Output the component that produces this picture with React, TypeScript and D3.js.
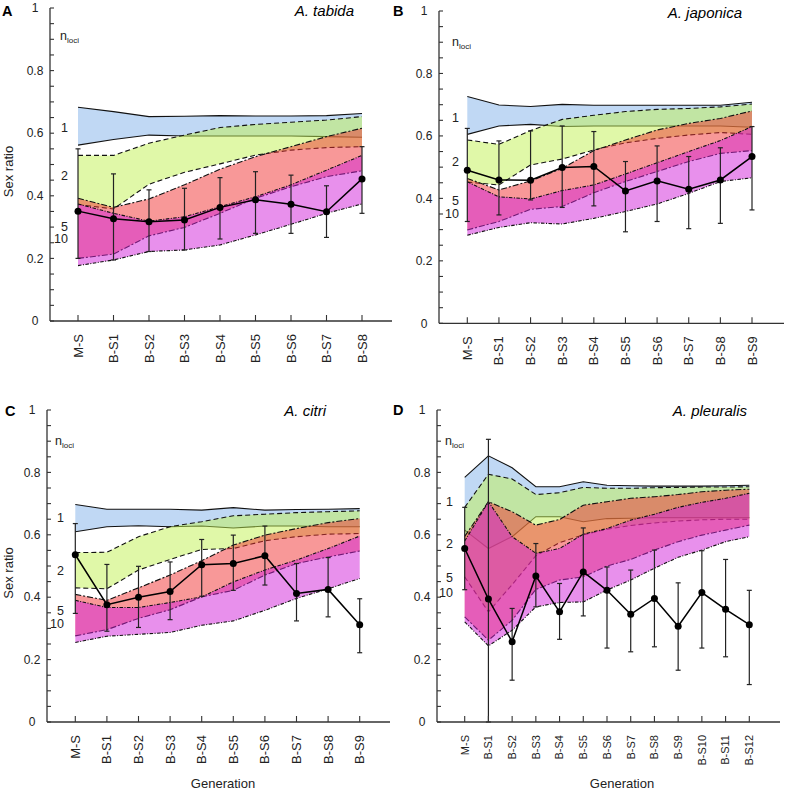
import React from 'react';
import * as d3 from 'd3';

// ---------- Panel A: A. tabida ----------
const catsA = ['M-S', 'B-S1', 'B-S2', 'B-S3', 'B-S4', 'B-S5', 'B-S6', 'B-S7', 'B-S8'];
const aN1Hi = [0.683, 0.669, 0.653, 0.654, 0.656, 0.655, 0.655, 0.656, 0.663];
const aN1Lo = [0.562, 0.580, 0.594, 0.591, 0.591, 0.591, 0.591, 0.589, 0.587];
const aN2Hi = [0.529, 0.529, 0.568, 0.594, 0.618, 0.628, 0.635, 0.642, 0.653];
const aN2Lo = [0.372, 0.358, 0.437, 0.475, 0.502, 0.530, 0.546, 0.554, 0.557];
const aN5Hi = [0.392, 0.363, 0.390, 0.435, 0.485, 0.525, 0.557, 0.589, 0.616];
const aN5Lo = [0.200, 0.214, 0.272, 0.299, 0.344, 0.392, 0.429, 0.461, 0.480];
const aN10Hi = [0.374, 0.344, 0.319, 0.333, 0.365, 0.397, 0.435, 0.482, 0.529];
const aN10Lo = [0.177, 0.195, 0.222, 0.227, 0.243, 0.275, 0.309, 0.344, 0.374];
const aMean = [0.351, 0.327, 0.317, 0.323, 0.363, 0.387, 0.373, 0.349, 0.454];
const aErrHi = [0.550, 0.470, 0.419, 0.424, 0.458, 0.477, 0.466, 0.432, 0.557];
const aErrLo = [0.200, 0.195, 0.222, 0.227, 0.262, 0.280, 0.280, 0.267, 0.344];

// ---------- Panel B: A. japonica ----------
const catsB = ['M-S', 'B-S1', 'B-S2', 'B-S3', 'B-S4', 'B-S5', 'B-S6', 'B-S7', 'B-S8', 'B-S9'];
const bN1Hi = [0.726, 0.699, 0.694, 0.701, 0.698, 0.698, 0.698, 0.698, 0.698, 0.708];
const bN1Lo = [0.605, 0.632, 0.637, 0.630, 0.632, 0.632, 0.632, 0.632, 0.632, 0.628];
const bN2Hi = [0.587, 0.573, 0.617, 0.653, 0.666, 0.678, 0.685, 0.688, 0.693, 0.702];
const bN2Lo = [0.452, 0.443, 0.507, 0.526, 0.555, 0.578, 0.592, 0.603, 0.611, 0.605];
const bN5Hi = [0.464, 0.427, 0.456, 0.496, 0.553, 0.587, 0.619, 0.640, 0.656, 0.680];
const bN5Lo = [0.299, 0.326, 0.365, 0.374, 0.418, 0.454, 0.486, 0.518, 0.544, 0.553];
const bN10Hi = [0.453, 0.405, 0.398, 0.425, 0.443, 0.478, 0.514, 0.550, 0.585, 0.630];
const bN10Lo = [0.282, 0.307, 0.322, 0.318, 0.336, 0.358, 0.382, 0.416, 0.454, 0.466];
const bMean = [0.490, 0.459, 0.458, 0.499, 0.502, 0.424, 0.456, 0.429, 0.459, 0.534];
const bErrHi = [0.624, 0.584, 0.616, 0.632, 0.614, 0.518, 0.568, 0.534, 0.562, 0.630];
const bErrLo = [0.326, 0.347, 0.395, 0.371, 0.376, 0.293, 0.326, 0.303, 0.320, 0.363];

// ---------- Panel C: A. citri ----------
const catsC = ['M-S', 'B-S1', 'B-S2', 'B-S3', 'B-S4', 'B-S5', 'B-S6', 'B-S7', 'B-S8', 'B-S9'];
const cN1Hi = [0.697, 0.682, 0.682, 0.682, 0.679, 0.687, 0.679, 0.681, 0.682, 0.684];
const cN1Lo = [0.610, 0.626, 0.629, 0.626, 0.628, 0.622, 0.628, 0.628, 0.626, 0.626];
const cN2Hi = [0.543, 0.544, 0.594, 0.626, 0.642, 0.661, 0.666, 0.671, 0.674, 0.677];
const cN2Lo = [0.430, 0.427, 0.487, 0.521, 0.553, 0.556, 0.581, 0.594, 0.602, 0.604];
const cN5Hi = [0.409, 0.390, 0.430, 0.471, 0.517, 0.567, 0.599, 0.620, 0.639, 0.652];
const cN5Lo = [0.276, 0.296, 0.332, 0.360, 0.401, 0.422, 0.471, 0.508, 0.529, 0.548];
const cN10Hi = [0.390, 0.367, 0.367, 0.383, 0.401, 0.449, 0.487, 0.519, 0.556, 0.596];
const cN10Lo = [0.255, 0.275, 0.281, 0.287, 0.310, 0.324, 0.358, 0.396, 0.427, 0.460];
const cMean = [0.536, 0.376, 0.400, 0.418, 0.504, 0.508, 0.533, 0.412, 0.425, 0.312];
const cErrHi = [0.636, 0.505, 0.499, 0.513, 0.585, 0.599, 0.628, 0.508, 0.527, 0.395];
const cErrLo = [0.348, 0.291, 0.303, 0.328, 0.403, 0.422, 0.439, 0.324, 0.337, 0.222];

// ---------- Panel D: A. pleuralis ----------
const catsD = ['M-S', 'B-S1', 'B-S2', 'B-S3', 'B-S4', 'B-S5', 'B-S6', 'B-S7', 'B-S8', 'B-S9', 'B-S10', 'B-S11', 'B-S12'];
const dN1Hi = [0.784, 0.853, 0.815, 0.754, 0.754, 0.770, 0.759, 0.757, 0.756, 0.756, 0.756, 0.757, 0.759];
const dN1Lo = [0.615, 0.556, 0.594, 0.658, 0.658, 0.642, 0.652, 0.653, 0.655, 0.655, 0.655, 0.655, 0.655];
const dN2Hi = [0.688, 0.794, 0.779, 0.729, 0.735, 0.752, 0.749, 0.749, 0.751, 0.752, 0.753, 0.753, 0.754];
const dN2Lo = [0.465, 0.353, 0.440, 0.533, 0.575, 0.600, 0.618, 0.630, 0.638, 0.644, 0.648, 0.650, 0.650];
const dN5Hi = [0.595, 0.706, 0.674, 0.631, 0.649, 0.695, 0.706, 0.717, 0.722, 0.729, 0.738, 0.743, 0.746];
const dN5Lo = [0.337, 0.262, 0.326, 0.425, 0.455, 0.465, 0.500, 0.521, 0.551, 0.578, 0.599, 0.615, 0.631];
const dN10Hi = [0.580, 0.706, 0.594, 0.541, 0.556, 0.602, 0.620, 0.647, 0.666, 0.688, 0.704, 0.717, 0.733];
const dN10Lo = [0.321, 0.244, 0.294, 0.369, 0.383, 0.385, 0.423, 0.455, 0.493, 0.528, 0.551, 0.578, 0.594];
const dMean = [0.556, 0.394, 0.257, 0.468, 0.353, 0.481, 0.422, 0.345, 0.396, 0.307, 0.415, 0.361, 0.312];
const dErrHi = [0.688, 0.906, 0.364, 0.572, 0.444, 0.622, 0.497, 0.487, 0.551, 0.446, 0.549, 0.521, 0.422];
const dErrLo = [0.424, 0.000, 0.134, 0.369, 0.265, 0.340, 0.237, 0.225, 0.241, 0.166, 0.237, 0.209, 0.120];

const yTickValues = [0, 0.2, 0.4, 0.6, 0.8, 1];
const yTickLabels = ['0', '0.2', '0.4', '0.6', '0.8', '1'];
const bandNames = ['1', '2', '5', '10'];

const FONT = '"Liberation Sans", Arial, Helvetica, sans-serif';
const BAND_FILLS = ['#81b1e9', '#c1f151', '#f13131', '#d121d9'];
const BAND_DASH = ['', '5,3', '6,2,2,2', '3.5,1.5,1,1.5'];

type PanelProps = {
  letter: string;
  title: string;
  cats: string[];
  bands: { lo: number[]; hi: number[] }[];
  mean: number[];
  errLo: number[];
  errHi: number[];
  axisX: number;
  y0: number;
  y1: number;
  xFirst: number;
  xLast: number;
  xEnd: number;
  letterPos: [number, number];
  titlePos: [number, number];
  nlociPos: [number, number];
  bandLabelV: number[];
  bandLabelX: number;
  xLabelSize: number;
  showYLabel: boolean;
  genX?: number;
};

function Panel(p: PanelProps) {
  const x = d3.scalePoint<string>().domain(p.cats).range([p.xFirst, p.xLast]);
  const y = d3.scaleLinear().domain([0, 1]).range([p.y0, p.y1]);
  const xi = (i: number) => x(p.cats[i]) as number;
  const areaGen = (lo: number[], hi: number[]) =>
    d3.area<number>().x((_, i) => xi(i)).y0((_, i) => y(lo[i])).y1((_, i) => y(hi[i]))(lo) || '';
  const lineGen = (vals: number[]) =>
    d3.line<number>().x((_, i) => xi(i)).y((v) => y(v))(vals) || '';
  const minor = d3.range(0, 1.0001, 0.05);
  const axisColor = '#333';

  return (
    <g>
      {p.bands.map((b, k) => (
        <g key={k}>
          <path d={areaGen(b.lo, b.hi)} fill={BAND_FILLS[k]} fillOpacity={0.5} stroke="none" />
          <path d={lineGen(b.hi)} fill="none" stroke="#111" strokeWidth={1.1} strokeDasharray={BAND_DASH[k] || undefined} />
          <path d={lineGen(b.lo)} fill="none" stroke="#111" strokeWidth={1.1} strokeDasharray={BAND_DASH[k] || undefined} />
        </g>
      ))}
      {p.mean.map((m, i) => (
        <g key={'e' + i} stroke="#222" strokeWidth={1.2}>
          <line x1={xi(i)} x2={xi(i)} y1={y(p.errLo[i])} y2={y(p.errHi[i])} />
          <line x1={xi(i) - 2.5} x2={xi(i) + 2.5} y1={y(p.errLo[i])} y2={y(p.errLo[i])} />
          <line x1={xi(i) - 2.5} x2={xi(i) + 2.5} y1={y(p.errHi[i])} y2={y(p.errHi[i])} />
        </g>
      ))}
      <path d={lineGen(p.mean)} fill="none" stroke="#000" strokeWidth={1.5} />
      {p.mean.map((m, i) => (
        <circle key={'c' + i} cx={xi(i)} cy={y(m)} r={3.5} fill="#000" />
      ))}
      <line x1={p.axisX} x2={p.axisX} y1={y(0)} y2={y(1)} stroke={axisColor} strokeWidth={1.3} />
      {minor.map((v, i) => (
        <line key={'t' + i} x1={p.axisX} x2={p.axisX + 4} y1={y(v)} y2={y(v)} stroke={axisColor} strokeWidth={1.1} />
      ))}
      {yTickValues.map((v, i) => (
        <text key={'yl' + i} x={p.axisX - 15} y={y(v)} dy="0.35em" textAnchor="middle" fontSize={12} fontFamily={FONT} fill="#222">
          {yTickLabels[i]}
        </text>
      ))}
      <line x1={p.axisX} x2={p.xEnd} y1={y(0)} y2={y(0)} stroke={axisColor} strokeWidth={1.3} />
      {p.cats.map((c, i) => (
        <line key={'xt' + i} x1={xi(i)} x2={xi(i)} y1={y(0)} y2={y(0) - 6} stroke={axisColor} strokeWidth={1.1} />
      ))}
      {p.cats.map((c, i) => (
        <text key={'xl' + i} transform={`translate(${xi(i)},${y(0) + 13}) rotate(-90)`} dy="0.35em" textAnchor="end" fontSize={p.xLabelSize} fontFamily={FONT} fill="#222">
          {c}
        </text>
      ))}
      {bandNames.map((n, i) => (
        <text key={'bl' + i} x={p.bandLabelX} y={y(p.bandLabelV[i])} dy="0.35em" textAnchor="end" fontSize={12.5} fontFamily={FONT} fill="#222">
          {n}
        </text>
      ))}
      <text x={p.nlociPos[0]} y={p.nlociPos[1]} fontSize={12.5} fontFamily={FONT} fill="#222">
        n<tspan fontSize={8} dy={3}>loci</tspan>
      </text>
      <text x={p.letterPos[0]} y={p.letterPos[1]} fontSize={14.5} fontWeight="bold" fontFamily={FONT} fill="#000">
        {p.letter}
      </text>
      <text x={p.titlePos[0]} y={p.titlePos[1]} fontSize={15} fontStyle="italic" fontFamily={FONT} textAnchor="end" fill="#000">
        {p.title}
      </text>
      {p.showYLabel && (
        <text transform={`translate(12.5,${(y(0) + y(1)) / 2 + 7}) rotate(-90)`} textAnchor="middle" fontSize={13} fontFamily={FONT} fill="#222">
          Sex ratio
        </text>
      )}
      {p.genX !== undefined && (
        <text x={p.genX} y={788} textAnchor="middle" fontSize={13} fontFamily={FONT} fill="#222">
          Generation
        </text>
      )}
    </g>
  );
}

export default function App() {
  return (
    <svg width={787} height={793} style={{ position: 'absolute', left: 0, top: 0, background: '#fff' }}>
      <rect width={787} height={793} fill="#fff" />
      <Panel
        letter="A" title="A. tabida" cats={catsA}
        bands={[{ lo: aN1Lo, hi: aN1Hi }, { lo: aN2Lo, hi: aN2Hi }, { lo: aN5Lo, hi: aN5Hi }, { lo: aN10Lo, hi: aN10Hi }]}
        mean={aMean} errLo={aErrLo} errHi={aErrHi}
        axisX={50} y0={321} y1={8} xFirst={78} xLast={362} xEnd={392}
        letterPos={[2, 16]} titlePos={[354, 16]} nlociPos={[60, 40]}
        bandLabelV={[0.617, 0.466, 0.302, 0.262]} bandLabelX={68} xLabelSize={13} showYLabel={true}
      />
      <Panel
        letter="B" title="A. japonica" cats={catsB}
        bands={[{ lo: bN1Lo, hi: bN1Hi }, { lo: bN2Lo, hi: bN2Hi }, { lo: bN5Lo, hi: bN5Hi }, { lo: bN10Lo, hi: bN10Hi }]}
        mean={bMean} errLo={bErrLo} errHi={bErrHi}
        axisX={439} y0={323.3} y1={11} xFirst={467.3} xLast={752} xEnd={784}
        letterPos={[393, 16]} titlePos={[742, 18]} nlociPos={[452, 46]}
        bandLabelV={[0.66, 0.517, 0.392, 0.35]} bandLabelX={459} xLabelSize={13} showYLabel={false}
      />
      <Panel
        letter="C" title="A. citri" cats={catsC}
        bands={[{ lo: cN1Lo, hi: cN1Hi }, { lo: cN2Lo, hi: cN2Hi }, { lo: cN5Lo, hi: cN5Hi }, { lo: cN10Lo, hi: cN10Hi }]}
        mean={cMean} errLo={cErrLo} errHi={cErrHi}
        axisX={47} y0={722} y1={410} xFirst={75.3} xLast={359.7} xEnd={390}
        letterPos={[5, 416]} titlePos={[326, 416]} nlociPos={[55, 445]}
        bandLabelV={[0.656, 0.484, 0.358, 0.314]} bandLabelX={64} xLabelSize={13} showYLabel={true} genX={223}
      />
      <Panel
        letter="D" title="A. pleuralis" cats={catsD}
        bands={[{ lo: dN1Lo, hi: dN1Hi }, { lo: dN2Lo, hi: dN2Hi }, { lo: dN5Lo, hi: dN5Hi }, { lo: dN10Lo, hi: dN10Hi }]}
        mean={dMean} errLo={dErrLo} errHi={dErrHi}
        axisX={437} y0={722} y1={410} xFirst={464.7} xLast={749.3} xEnd={780}
        letterPos={[393, 415]} titlePos={[747, 416]} nlociPos={[445, 445]}
        bandLabelV={[0.706, 0.571, 0.462, 0.414]} bandLabelX={453} xLabelSize={11} showYLabel={false} genX={622}
      />
    </svg>
  );
}
